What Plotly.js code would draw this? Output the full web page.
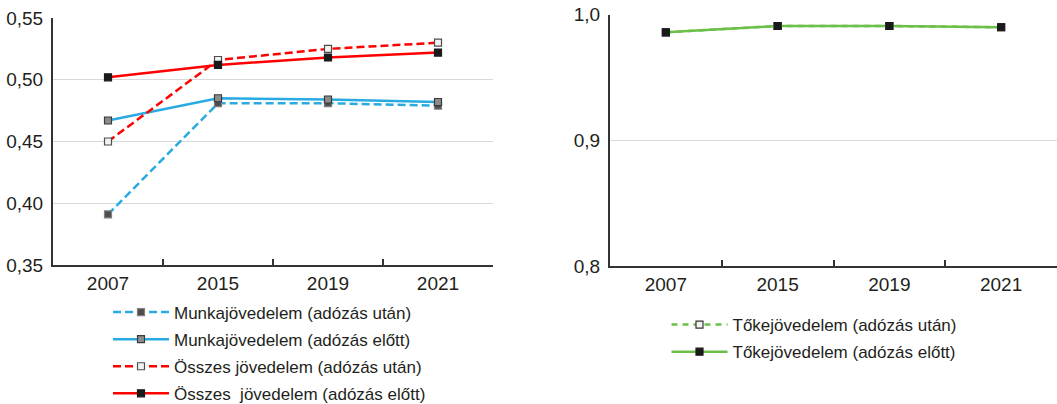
<!DOCTYPE html>
<html>
<head>
<meta charset="utf-8">
<script src="https://cdn.plot.ly/plotly-3.0.1.min.js"></script>
<style>html,body{margin:0;padding:0;background:#fff}#chart{width:1057px;height:404px}</style>
</head>
<body>
<div id="chart"></div>
<script>
// Categories (years)
const years = ['2007', '2015', '2019', '2021'];

// Left panel series
const munkaUtan   = [0.391, 0.481, 0.481, 0.479];
const munkaElott  = [0.467, 0.485, 0.484, 0.482];
const osszesUtan  = [0.450, 0.516, 0.525, 0.530];
const osszesElott = [0.502, 0.512, 0.518, 0.522];

// Right panel series
const tokeUtan  = [0.986, 0.991, 0.991, 0.990];
const tokeElott = [0.986, 0.991, 0.991, 0.990];

// Labels
const names = {
  munkaUtan: 'Munkajövedelem (adózás után)',
  munkaElott: 'Munkajövedelem (adózás előtt)',
  osszesUtan: 'Összes jövedelem (adózás után)',
  osszesElott: 'Összes  jövedelem (adózás előtt)',
  tokeUtan: 'Tőkejövedelem (adózás után)',
  tokeElott: 'Tőkejövedelem (adózás előtt)'
};

const BLUE = '#29abe2', RED = '#ff0000', GREEN = '#6cc04a';
const FONT = 'Liberation Sans, Arial, sans-serif';

function tr(y, name, color, dash, mfill, mline, xa, ya, leg, grp) {
  return {
    x: years, y: y, name: name, type: 'scatter', mode: 'lines+markers',
    xaxis: xa, yaxis: ya, legend: leg, legendgroup: grp,
    line: {color: color, width: 2.5, dash: dash},
    marker: {symbol: 'square', size: 7, color: mfill, line: {color: mline, width: 1.2}},
    hoverinfo: 'skip'
  };
}

const data = [
  tr(munkaUtan, names.munkaUtan, BLUE, '8px,4px', '#4d4d4d', '#7f7f7f', 'x', 'y', 'legend', 'a'),
  tr(munkaElott, names.munkaElott, BLUE, 'solid', '#8c8c8c', '#3a3a3a', 'x', 'y', 'legend', 'b'),
  tr(osszesUtan, names.osszesUtan, RED, '8px,4px', '#f2f2f2', '#4d4d4d', 'x', 'y', 'legend', 'c'),
  tr(osszesElott, names.osszesElott, RED, 'solid', '#1a1a1a', '#1a1a1a', 'x', 'y', 'legend', 'd'),
  tr(tokeUtan, names.tokeUtan, GREEN, '6px,5px', '#f2f2f2', '#333333', 'x2', 'y2', 'legend2', 'e'),
  tr(tokeElott, names.tokeElott, GREEN, 'solid', '#1a1a1a', '#1a1a1a', 'x2', 'y2', 'legend2', 'f')
];

const xCommon = {
  type: 'category', range: [-0.5, 3.5], showgrid: false,
  showline: true, linecolor: '#333333', linewidth: 2,
  ticks: 'inside', tickson: 'boundaries', ticklen: 6, tickwidth: 2, tickcolor: '#333333',
  tickfont: {family: FONT, size: 19, color: '#231f20'}, fixedrange: true
};
const yCommon = {
  showline: true, linecolor: '#333333', linewidth: 2,
  showgrid: true, gridcolor: '#d9d9d9', gridwidth: 1,
  ticks: '', zeroline: false, ticklabelstandoff: 4,
  tickfont: {family: FONT, size: 19, color: '#231f20'}, fixedrange: true
};

const legCommon = {
  orientation: 'v', xanchor: 'left', yanchor: 'top',
  font: {family: FONT, size: 17, color: '#231f20'},
  itemwidth: 56, traceorder: 'grouped', tracegroupgap: 2,
  bgcolor: 'rgba(0,0,0,0)', itemclick: false, itemdoubleclick: false
};

const layout = {
  width: 1057, height: 404,
  margin: {l: 0, r: 0, t: 0, b: 0, autoexpand: false},
  paper_bgcolor: '#ffffff', plot_bgcolor: '#ffffff',
  separators: ', ',
  showlegend: true,
  xaxis: Object.assign({}, xCommon, {domain: [53/1057, 493/1057], anchor: 'y'}),
  yaxis: Object.assign({}, yCommon, {domain: [1 - 265/404, 1 - 18/404], range: [0.35, 0.55], dtick: 0.05, tickformat: '.2f', anchor: 'x'}),
  xaxis2: Object.assign({}, xCommon, {domain: [610/1057, 1], anchor: 'y2'}),
  yaxis2: Object.assign({}, yCommon, {domain: [1 - 266/404, 1 - 14.7/404], range: [0.8, 1.0], dtick: 0.1, tickformat: '.1f', anchor: 'x2'}),
  legend: Object.assign({}, legCommon, {x: 108/1057, y: 1 - 294.5/404}),
  legend2: Object.assign({}, legCommon, {x: 666.5/1057, y: 1 - 307/404})
};

Plotly.newPlot('chart', data, layout, {staticPlot: true, displayModeBar: false});
</script>
</body>
</html>
